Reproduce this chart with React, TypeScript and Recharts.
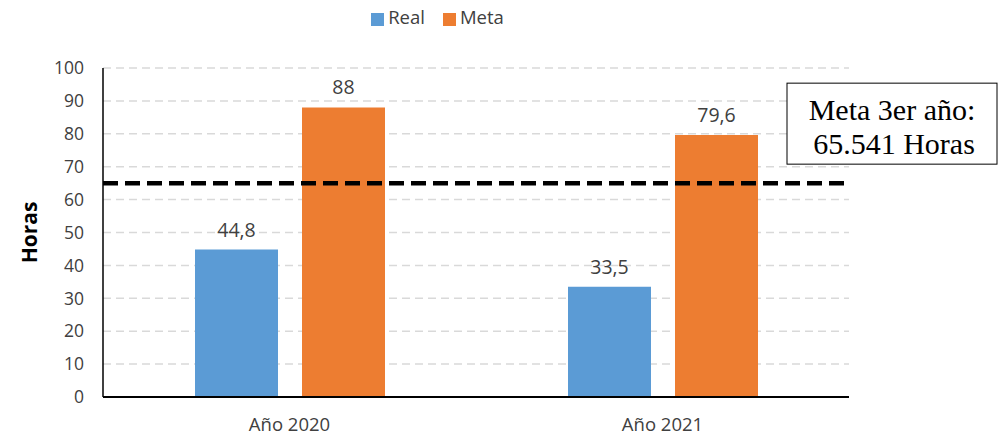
import React from "react";
import { BarChart, Bar, XAxis, YAxis, CartesianGrid, Legend, ReferenceLine, LabelList, Label } from "recharts";

const years = ["Año 2020", "Año 2021"];
const real = [44.8, 33.5];
const meta = [88, 79.6];
const yTicks = [0, 10, 20, 30, 40, 50, 60, 70, 80, 90, 100];
const metaLine = 65;
const metaText = ["Meta 3er año:", "65.541 Horas"];
const seriesOrder = ["Real", "Meta"];

const data = years.map((year, i) => ({ year, Real: real[i], Meta: meta[i] }));

const font = "'Open Sans', sans-serif";
const comma = (v: any) => String(v).replace(".", ",");

// text box tied to the right end of the meta line
const MetaBox = (props: any) => {
    const { viewBox } = props;
    const right = viewBox.x + viewBox.width;
    const x = right - 62;
    const y = viewBox.y - 100;
    return (
        <g>
            <rect x={x} y={y} width={210} height={81} fill="#fff" stroke="#000" strokeWidth={1} />
            <text x={x + 105} y={y + 37} textAnchor="middle" fontFamily="'Liberation Serif', serif" fontSize={30} fill="#000">
                {metaText[0]}
            </text>
            <text x={x + 107} y={y + 71} textAnchor="middle" fontFamily="'Liberation Serif', serif" fontSize={30} fill="#000">
                {metaText[1]}
            </text>
        </g>
    );
};

export default function App() {
    return (
        <div style={{ width: 991, height: 429, fontFamily: font }}>
            <BarChart width={991} height={429} data={data} margin={{ top: 35, right: 150, bottom: 0, left: 0 }} barSize={83} barGap={24}>
                <CartesianGrid vertical={false} stroke="#d9d9d9" strokeWidth={1.5} strokeDasharray="8 5" />
                <XAxis dataKey="year" height={40} tickLine={false} axisLine={{ stroke: "#000", strokeWidth: 2 }}
                    tick={{ fill: "#404040", fontSize: 18.5, fontFamily: font }} tickMargin={15} />
                <YAxis width={95} domain={[0, 100]} ticks={yTicks} interval={0} tickLine={false}
                    axisLine={{ stroke: "#000", strokeWidth: 1.5 }} tickMargin={13}
                    tick={{ fill: "#404040", fontSize: 17.5, fontFamily: font }}>
                    <Label value="Horas" angle={-90} position="insideLeft" offset={22} textAnchor="middle"
                        style={{ fontWeight: 700, fontSize: 21, fill: "#000", fontFamily: font }} />
                </YAxis>
                <Legend verticalAlign="top" iconType="square" iconSize={13} wrapperStyle={{ top: -4, paddingLeft: 18 }}
                    itemSorter={(item: any) => seriesOrder.indexOf(item.dataKey)}
                    formatter={(v: string) => <span style={{ color: "#404040", fontSize: 18.5, fontFamily: font, marginRight: 8 }}>{v}</span>} />
                <Bar dataKey="Real" fill="#5b9bd5" isAnimationActive={false}>
                    <LabelList dataKey="Real" position="top" offset={13} formatter={comma}
                        style={{ fill: "#404040", fontSize: 19.5, fontFamily: font }} />
                </Bar>
                <Bar dataKey="Meta" fill="#ed7d31" isAnimationActive={false}>
                    <LabelList dataKey="Meta" position="top" offset={13} formatter={comma}
                        style={{ fill: "#404040", fontSize: 19.5, fontFamily: font }} />
                </Bar>
                <ReferenceLine y={metaLine} stroke="#000" strokeWidth={4.5} strokeDasharray="15 7" label={<MetaBox />} />
            </BarChart>
        </div>
    );
}
